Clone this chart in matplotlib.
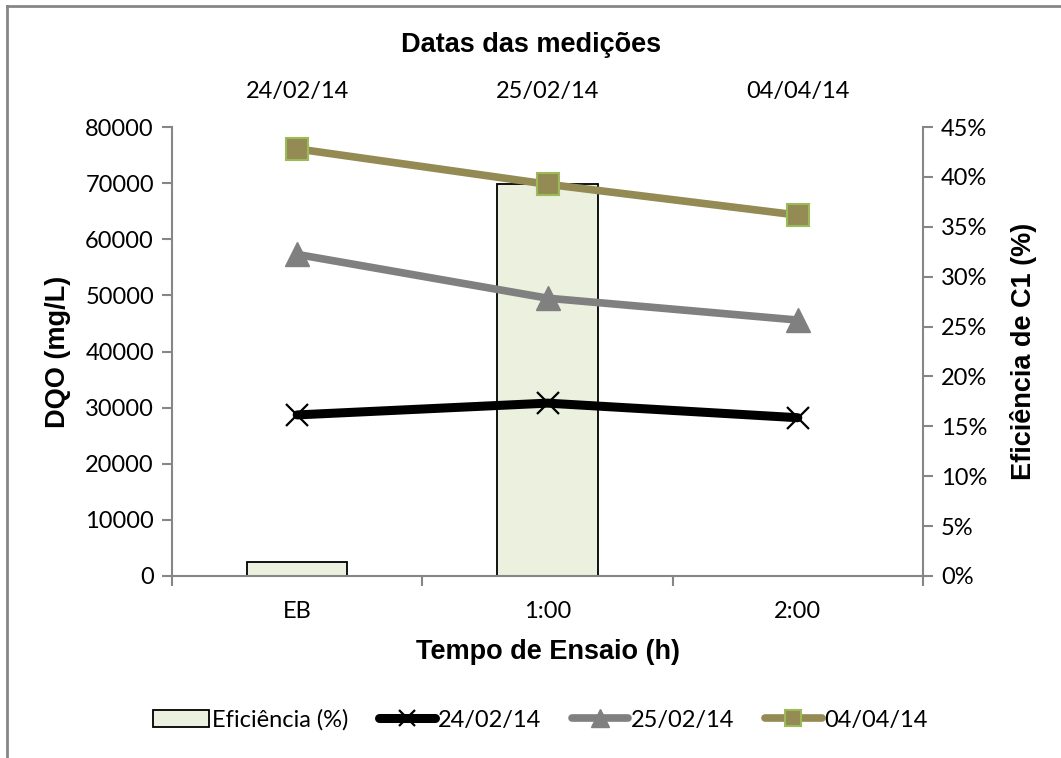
import matplotlib.pyplot as plt
import numpy as np
from matplotlib.lines import Line2D

# Data
categories = ["EB", "1:00", "2:00"]
dates = ["24/02/14", "25/02/14", "04/04/14"]
eficiencia = [1.4, 39.3, np.nan]          # %
dqo_2402 = [28700, 30800, 28200]          # mg/L
dqo_2502 = [57300, 49500, 45600]
dqo_0404 = [76100, 69800, 64300]

W, H = 1061, 758
fig = plt.figure(figsize=(W / 100, H / 100), dpi=100)

tick_font = "Lato"
bold_font = "Liberation Sans"
fs = 17
bfs = 19.5
spine_c = "#868686"

ax = fig.add_axes([172 / W, (H - 576) / H, (923 - 172) / W, (576 - 127) / H])
ax2 = ax.twinx()
ax.set_zorder(2)
ax2.set_zorder(1)
ax.patch.set_visible(False)

x = np.arange(len(categories))

# Efficiency bars (right axis)
ax2.bar(x, eficiencia, width=0.4, color="#EBF1DE", edgecolor="black",
        linewidth=1.3, label="Eficiência (%)")
ax2.set_ylim(0, 45)
ax2.set_yticks(np.arange(0, 46, 5))
ax2.set_yticklabels([f"{v}%" for v in range(0, 46, 5)])

# DQO lines (left axis)
l1, = ax.plot(x, dqo_2402, color="black", lw=6.5, marker="x", ms=16,
              mew=1.6, mec="black", solid_capstyle="round", label="24/02/14")
l2, = ax.plot(x, dqo_2502, color="#808080", lw=5.5, marker="^", ms=17,
              mec="#808080", solid_capstyle="round", label="25/02/14")
l3, = ax.plot(x, dqo_0404, color="#948A54", lw=5.5, marker="s", ms=16,
              mfc="#948A54", mec="#9BBB59", mew=1.5, solid_capstyle="round",
              label="04/04/14")
ax.set_ylim(0, 80000)
ax.set_yticks(np.arange(0, 80001, 10000))
ax.set_xlim(-0.5, 2.5)
ax.set_xticks(x)
ax.set_xticklabels(categories)
ax.set_xticks([-0.5, 0.5, 1.5, 2.5], minor=True)
ax.tick_params(axis="x", which="major", length=0, pad=18)
ax.tick_params(axis="x", which="minor", length=7, width=1.5, color=spine_c,
               direction="out")
ax.tick_params(axis="y", length=7, width=1.5, color=spine_c, direction="out", pad=6)
ax2.tick_params(axis="y", length=7, width=1.5, color=spine_c, direction="out", pad=6)

for a in (ax, ax2):
    for s in a.spines.values():
        s.set_visible(False)
ax.spines["left"].set_visible(True)
ax.spines["bottom"].set_visible(True)
ax2.spines["right"].set_visible(True)
for s in (ax.spines["left"], ax.spines["bottom"], ax2.spines["right"]):
    s.set_color(spine_c)
    s.set_linewidth(1.5)

for lab in ax.get_xticklabels() + ax.get_yticklabels() + ax2.get_yticklabels():
    lab.set_fontfamily(tick_font)
    lab.set_fontsize(fs)

# Dates on the top axis
top = ax.secondary_xaxis("top")
top.set_xticks(x)
top.set_xticklabels(dates, fontfamily=tick_font, fontsize=fs)
top.tick_params(length=0, pad=18)
top.spines["top"].set_visible(False)

ax.set_ylabel("DQO (mg/L)", fontfamily=bold_font, fontweight="bold", fontsize=bfs, labelpad=10)
ax2.set_ylabel("Eficiência de C1 (%)", fontfamily=bold_font, fontweight="bold", fontsize=bfs, labelpad=16)
ax.set_xlabel("Tempo de Ensaio (h)", fontfamily=bold_font, fontweight="bold", fontsize=bfs, labelpad=12)
fig.text(531 / W, 1 - 45 / H, "Datas das medições", ha="center", va="center",
         fontfamily=bold_font, fontweight="bold", fontsize=bfs)

# Legend
bar_handle = plt.Rectangle((0, 0), 1, 1, facecolor="#EBF1DE", edgecolor="black", linewidth=1.3)
handles = [bar_handle, l1, l2, l3]
labels = ["Eficiência (%)", "24/02/14", "25/02/14", "04/04/14"]
leg = fig.legend(handles, labels, loc="center", bbox_to_anchor=(540 / W, 1 - 720 / H),
                 ncol=4, frameon=False, prop={"family": tick_font, "size": fs},
                 handlelength=2.4, handletextpad=0.1, columnspacing=1.3, numpoints=1,
                 markerscale=0.75)

# Outer frame
fig.add_artist(Line2D([7 / W, 7 / W], [0, 1 - 6 / H], color=spine_c, lw=2,
                      transform=fig.transFigure))
fig.add_artist(Line2D([7 / W, 1], [1 - 6 / H, 1 - 6 / H], color=spine_c, lw=2,
                      transform=fig.transFigure))

fig.savefig("out.png", dpi=100)
